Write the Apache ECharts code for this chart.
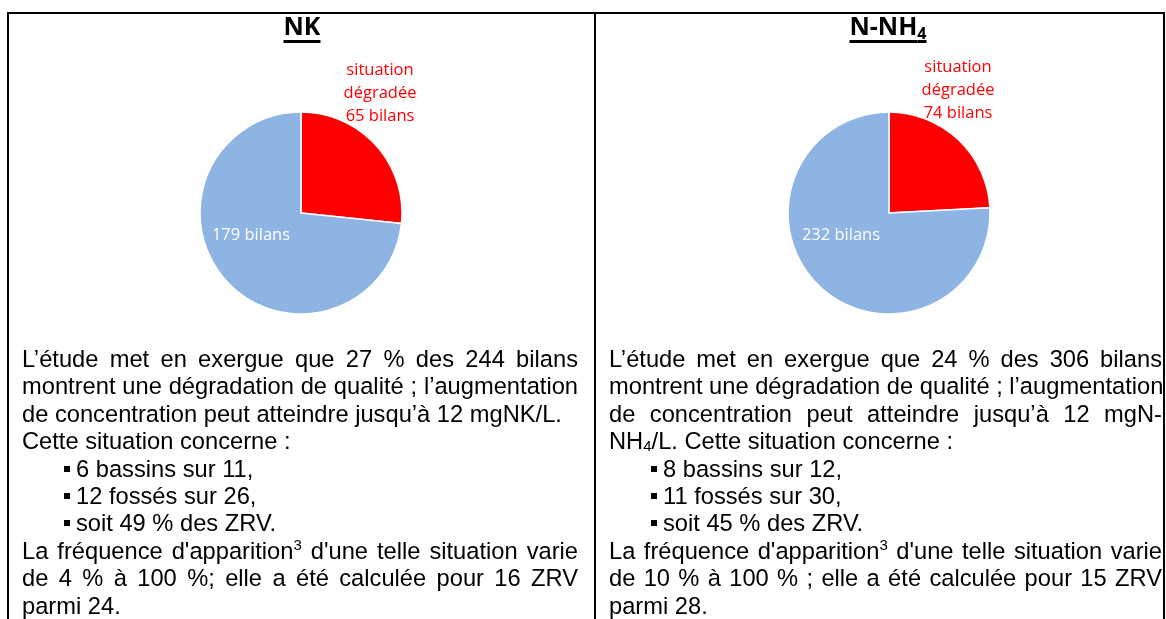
<!DOCTYPE html>
<html lang="fr">
<head>
<meta charset="utf-8">
<title>NK / N-NH4 – bilans</title>
<script src="https://cdn.jsdelivr.net/npm/echarts@6/dist/echarts.min.js"></script>
<style>
  html, body { margin: 0; padding: 0; background: #fff; }
  body { width: 1166px; height: 619px; overflow: hidden; position: relative;
         font-family: "Liberation Sans", Arial, sans-serif; color: #000; }
  #chart { position: absolute; left: 0; top: 0; width: 1166px; height: 619px; }
  .rule { position: absolute; background: #000; }
  .title { position: absolute; top: 10px; width: 200px; margin-left: -100px; text-align: center;
           font-family: "Open Sans", sans-serif; font-weight: bold; font-size: 25px; line-height: 30px;
           text-decoration: underline; text-decoration-thickness: 3px; text-underline-offset: 5px; }
  .title sub { font-size: 16px; line-height: 0; vertical-align: -4px; }
  .txt { position: absolute; top: 346px; font-size: 23.7px; line-height: 27.4px; }
  .txt div { white-space: nowrap; }
  .j { text-align: justify; text-align-last: justify; }
  .b { padding-left: 42px; }
  .sq { display: inline-block; width: 6px; height: 6px; background: #000; margin-right: 6px; vertical-align: 5px; }
  .txt sup { font-size: 15px; line-height: 0; vertical-align: 9px; }
  .txt sub { font-size: 15px; line-height: 0; vertical-align: -2px; }
</style>
</head>
<body>
<div id="chart"></div>

<!-- table frame -->
<div class="rule" style="left:7px; top:12px; width:1158px; height:2px;"></div>
<div class="rule" style="left:7px; top:12px; width:2px; height:607px;"></div>
<div class="rule" style="left:594px; top:12px; width:2px; height:607px;"></div>
<div class="rule" style="left:1163px; top:12px; width:2px; height:607px;"></div>

<div class="title" style="left:302px;">NK</div>
<div class="title" style="left:888px;">N-NH<sub>4</sub></div>

<div class="txt" style="left:22px; width:556px;">
  <div class="j">L’étude met en exergue que 27 % des 244 bilans</div>
  <div class="j">montrent une dégradation de qualité ; l’augmentation</div>
  <div>de concentration peut atteindre jusqu’à 12 mgNK/L.</div>
  <div>Cette situation concerne :</div>
  <div class="b"><span class="sq"></span>6 bassins sur 11,</div>
  <div class="b"><span class="sq"></span>12 fossés sur 26,</div>
  <div class="b"><span class="sq"></span>soit 49 % des ZRV.</div>
  <div class="j">La fréquence d'apparition<sup>3</sup> d'une telle situation varie</div>
  <div class="j">de 4 % à 100 %; elle a été calculée pour 16 ZRV</div>
  <div>parmi 24.</div>
</div>

<div class="txt" style="left:609px; width:553px;">
  <div class="j">L’étude met en exergue que 24 % des 306 bilans</div>
  <div class="j">montrent une dégradation de qualité ; l’augmentation</div>
  <div class="j">de concentration peut atteindre jusqu’à 12 mgN-</div>
  <div>NH<sub>4</sub>/L. Cette situation concerne :</div>
  <div class="b"><span class="sq"></span>8 bassins sur 12,</div>
  <div class="b"><span class="sq"></span>11 fossés sur 30,</div>
  <div class="b"><span class="sq"></span>soit 45 % des ZRV.</div>
  <div class="j">La fréquence d'apparition<sup>3</sup> d'une telle situation varie</div>
  <div class="j">de 10 % à 100 % ; elle a été calculée pour 15 ZRV</div>
  <div>parmi 28.</div>
</div>

<script>
// one pie per parameter
const panelNames = ['NK', 'N-NH4'];
const degradedCounts = [65, 74];
const otherCounts = [179, 232];
const sliceNames = ['situation dégradée', 'autres bilans'];
const sliceColors = ['#FF0000', '#8EB4E3'];

// layout (pixels)
const centers = [[301, 213], [889, 213]];
const labelOffsets = [
  [[79, -120], [-50, 22]],
  [[69, -123], [-48, 22]]
];

const chart = echarts.init(document.getElementById('chart'));

const series = panelNames.map((name, i) => ({
  type: 'pie',
  name: name,
  center: centers[i],
  radius: 101,
  startAngle: 90,
  clockwise: true,
  silent: true,
  avoidLabelOverlap: false,
  itemStyle: { borderColor: '#fff', borderWidth: 1.5 },
  label: {
    show: true,
    position: 'inside',
    fontFamily: 'Open Sans',
    fontSize: 16.5
  },
  labelLine: { show: false },
  labelLayout: (p) => {
    const o = labelOffsets[i][p.dataIndex];
    return { x: centers[i][0] + o[0], y: centers[i][1] + o[1], align: 'center', verticalAlign: 'middle' };
  },
  data: [
    {
      name: sliceNames[0],
      value: degradedCounts[i],
      itemStyle: { color: sliceColors[0] },
      label: { color: '#FF0000', lineHeight: 23, formatter: 'situation\ndégradée\n{c} bilans' }
    },
    {
      name: sliceNames[1],
      value: otherCounts[i],
      itemStyle: { color: sliceColors[1] },
      label: { color: '#FFFFFF', formatter: '{c} bilans' }
    }
  ]
}));

chart.setOption({
  animation: false,
  series: series
});
</script>
</body>
</html>
